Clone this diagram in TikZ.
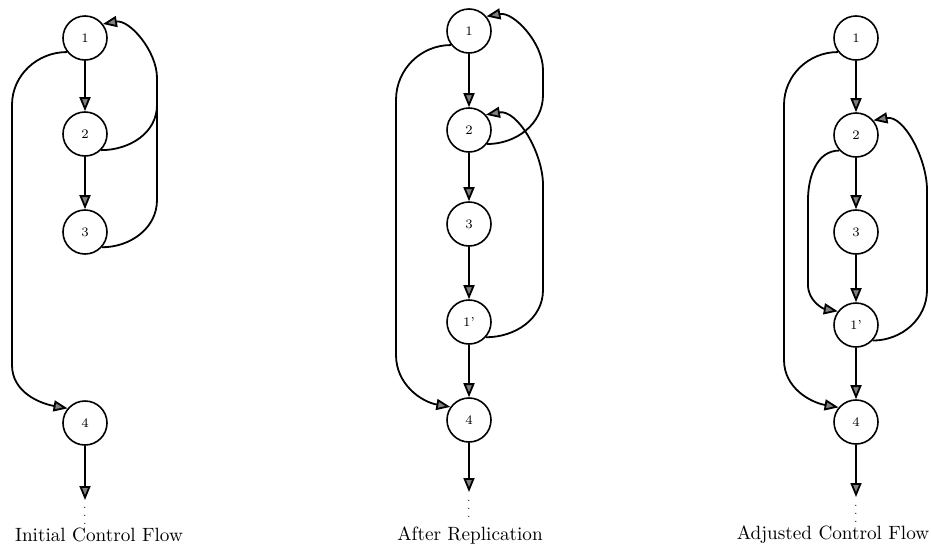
\documentclass[tikz,border=0pt]{standalone}
\usepackage{amsmath,amssymb}
\usepackage{tikz}
\usetikzlibrary{calc,arrows.meta}
\tikzset{
  bblock/.style={circle, draw, line width=0.8pt, minimum size=22pt, inner sep=0pt, font=\fontsize{6.5}{7}\selectfont},
  flow/.style={-{Triangle[length=7pt,width=5.5pt,fill=black!50]}, draw=black, line width=0.9pt},
  rail/.style={draw=black, line width=0.9pt},
  cont/.style={font=\tiny, inner sep=0pt},
  caption/.style={font=\fontsize{9.6}{11}\selectfont}
}

\begin{document}
\begin{tikzpicture}[x=0.5pt, y=-0.5pt]
  \useasboundingbox (0,0) rectangle (931,552);

  % initial control flow
  \node[bblock] (a1) at (85,38)  {1};
  \node[bblock] (a2) at (85,134) {2};
  \node[bblock] (a3) at (85,232) {3};
  \node[bblock] (a4) at (85,423) {4};
  \coordinate (aend) at (85,500);
  \node[cont] (adots) at (85,510) {$\vdots$};

  \draw[flow] (a1) -- (a2);
  \draw[flow] (a2) -- (a3);
  \draw[flow] (a4) -- (aend);
  \draw[flow] (a1.218) to[out=180,in=90] (12,105) -- (12,365) to[out=-90,in=170] (a4.140);
  \draw[flow] (a2.-45) to[out=0,in=-90] (157,105) -- (157,78) to[out=90,in=10,looseness=0.9] (a1.38);
  \draw[rail] (a3.-42) to[out=0,in=-90] (157,200) -- (157,105);

  % after replication
  \node[bblock] (b1)  at (469,31)  {1};
  \node[bblock] (b2)  at (469,130) {2};
  \node[bblock] (b3)  at (469,224) {3};
  \node[bblock] (b1p) at (469,322) {1'};
  \node[bblock] (b4)  at (469,420) {4};
  \coordinate (bend) at (469,492);
  \node[cont] (bdots) at (469,503) {$\vdots$};

  \draw[flow] (b1) -- (b2);
  \draw[flow] (b2) -- (b3);
  \draw[flow] (b3) -- (b1p);
  \draw[flow] (b1p) -- (b4);
  \draw[flow] (b4) -- (bend);
  \draw[flow] (b1.218) to[out=180,in=90] (396,100) -- (396,355) to[out=-90,in=170] (b4.145);
  \draw[flow] (b2.-38) to[out=0,in=-90] (543,95) -- (543,70) to[out=90,in=10,looseness=0.9] (b1.40);
  \draw[flow] (b1p.-42) to[out=0,in=-90] (543,290) -- (543,185) to[out=90,in=10,looseness=0.9] (b2.42);

  % adjusted control flow
  \node[bblock] (c1)  at (856,38)  {1};
  \node[bblock] (c2)  at (856,135) {2};
  \node[bblock] (c3)  at (856,232) {3};
  \node[bblock] (c1p) at (856,325) {1'};
  \node[bblock] (c4)  at (856,422) {4};
  \coordinate (cend) at (856,497);
  \node[cont] (cdots) at (856,508) {$\vdots$};

  \draw[flow] (c1) -- (c2);
  \draw[flow] (c2) -- (c3);
  \draw[flow] (c3) -- (c1p);
  \draw[flow] (c1p) -- (c4);
  \draw[flow] (c4) -- (cend);
  \draw[flow] (c1.218) to[out=180,in=90] (784,105) -- (784,360) to[out=-90,in=170] (c4.140);
  \draw[flow] (c2.223) to[out=180,in=90] (808,200) -- (808,285) to[out=-90,in=170] (c1p.143);
  \draw[flow] (c1p.-43) to[out=0,in=-90] (927,290) -- (927,190) to[out=90,in=10,looseness=0.9] (c2.40);

  % captions
  \node[caption] (acap) at (99,535)  {Initial Control Flow};
  \node[caption] (bcap) at (470,535) {After Replication};
  \node[caption] (ccap) at (833,535) {Adjusted Control Flow};
\end{tikzpicture}
\end{document}
